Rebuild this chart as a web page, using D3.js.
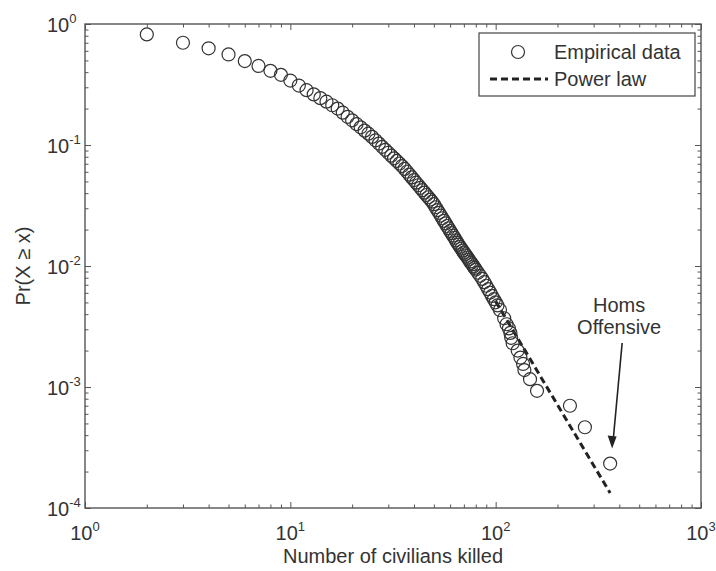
<!DOCTYPE html>
<html>
<head>
<meta charset="utf-8">
<script src="https://cdn.jsdelivr.net/npm/d3@7"></script>
<style>
  body { margin: 0; background: #fff; }
  svg { display: block; font-family: "Liberation Sans", Arial, sans-serif; }
</style>
</head>
<body>
<svg width="716" height="571"></svg>
<script>
// number of civilians killed per event (unique values) and Pr(X >= x)
const killed = [2, 3, 4, 5, 6, 7, 8, 9,
  10, 11, 12, 13, 14, 15, 16, 17, 18, 19, 20, 21, 22, 23, 24, 25, 26, 27, 28, 29,
  30, 31, 32, 33, 34, 35, 36, 37, 38, 39, 40, 41, 42, 43, 44, 45, 46, 47, 48, 49,
  50, 51, 52, 53, 54, 55, 56, 57, 58, 59, 60, 61, 62, 63, 64, 65, 66, 67, 68, 69,
  70, 71, 72, 73, 74, 75, 76, 77, 78, 79, 80, 82, 84, 86, 88, 90, 92, 94, 96, 98,
  100, 102, 105, 110, 113, 116, 118, 119, 121, 128, 132, 136, 138, 147, 159, 230, 272, 361]
const probability = [0.82, 0.70, 0.63, 0.56, 0.494, 0.45, 0.41, 0.38,
  0.341, 0.310, 0.284, 0.262, 0.244, 0.228, 0.213, 0.200, 0.185, 0.171, 0.160, 0.149, 0.140, 0.1315, 0.124, 0.1167, 0.1094, 0.1028, 0.0966, 0.0912,
  0.0863, 0.0817, 0.0776, 0.0738, 0.0703, 0.0670, 0.0635, 0.0601, 0.0569, 0.0540, 0.0513, 0.0488, 0.0465, 0.0443, 0.0423, 0.0404, 0.0386, 0.0370, 0.0354, 0.0340,
  0.0324, 0.0306, 0.0290, 0.0275, 0.0261, 0.0248, 0.0236, 0.0225, 0.0214, 0.0205, 0.0195, 0.0187, 0.0178, 0.0171, 0.0163, 0.0156, 0.0150, 0.0144, 0.0139, 0.0134,
  0.0129, 0.0125, 0.0121, 0.0117, 0.0113, 0.0109, 0.0106, 0.0103, 0.00993, 0.00964, 0.00935, 0.00880, 0.00830, 0.00783, 0.00735, 0.00687, 0.00643, 0.00603, 0.00566, 0.00532,
  0.00501, 0.00472, 0.00433, 0.0037, 0.0033, 0.00305, 0.0028, 0.00255, 0.0023, 0.0020, 0.00175, 0.00155, 0.00138, 0.00116, 0.00093, 0.0007, 0.000465, 0.000233]

// fitted power law (end points of the dashed line)
const powerLawX = [100, 361]
const powerLawY = [0.0051, 0.000133]

const xDecades = [1, 10, 100, 1000]
const yDecades = [1e-4, 1e-3, 1e-2, 1e-1, 1]

const plotLeft = 85, plotRight = 701, plotTop = 24, plotBottom = 508
const ink = "#333"

const svg = d3.select("svg")

const x = d3.scaleLog().domain([1, 1000]).range([plotLeft, plotRight])
const y = d3.scaleLog().domain([1e-4, 1]).range([plotBottom, plotTop])

// minor tick positions 2..9 within each decade
const minorX = [], minorY = []
xDecades.slice(0, -1).forEach(d => { for (let k = 2; k < 10; k++) minorX.push(d * k) })
yDecades.slice(0, -1).forEach(d => { for (let k = 2; k < 10; k++) minorY.push(d * k) })

// ticks on all four sides, pointing inwards (matlab style)
function ticks(axisFn, scale, values, size, transform) {
    const g = svg.append("g")
        .attr("transform", transform)
        .call(axisFn(scale).tickValues(values).tickSizeInner(-size).tickSizeOuter(0).tickFormat(""))
    g.select(".domain").remove()
    g.selectAll(".tick line").attr("stroke", "#555").attr("stroke-width", 1)
}
ticks(d3.axisBottom, x, xDecades, 6, `translate(0,${plotBottom})`)
ticks(d3.axisBottom, x, minorX, 3.5, `translate(0,${plotBottom})`)
ticks(d3.axisTop, x, xDecades, 6, `translate(0,${plotTop})`)
ticks(d3.axisTop, x, minorX, 3.5, `translate(0,${plotTop})`)
ticks(d3.axisLeft, y, yDecades, 6, `translate(${plotLeft},0)`)
ticks(d3.axisLeft, y, minorY, 3.5, `translate(${plotLeft},0)`)
ticks(d3.axisRight, y, yDecades, 6, `translate(${plotRight},0)`)
ticks(d3.axisRight, y, minorY, 3.5, `translate(${plotRight},0)`)

svg.append("rect")
    .attr("x", plotLeft).attr("y", plotTop)
    .attr("width", plotRight - plotLeft).attr("height", plotBottom - plotTop)
    .attr("fill", "none").attr("stroke", "#555").attr("stroke-width", 1.4)

// tick labels 10^n
function powerLabel(sel, exp) {
    sel.append("tspan").text("10")
    sel.append("tspan").attr("dy", -9).attr("font-size", 13).text(exp)
}
xDecades.forEach(v => {
    svg.append("text")
        .attr("x", x(v)).attr("y", 540)
        .attr("text-anchor", "middle")
        .attr("font-size", 20).attr("fill", ink)
        .call(powerLabel, Math.round(Math.log10(v)))
})
yDecades.forEach(v => {
    svg.append("text")
        .attr("x", 47).attr("y", y(v) + 8)
        .attr("font-size", 20).attr("fill", ink)
        .call(powerLabel, Math.round(Math.log10(v)))
})

// axis titles
svg.append("text")
    .attr("x", (plotLeft + plotRight) / 2).attr("y", 563)
    .attr("text-anchor", "middle")
    .attr("font-size", 20).attr("fill", ink)
    .text("Number of civilians killed")

svg.append("text")
    .attr("transform", `translate(30,${(plotTop + plotBottom) / 2}) rotate(-90)`)
    .attr("text-anchor", "middle")
    .attr("font-size", 20).attr("fill", ink)
    .text("Pr(X \u2265 x)")

// power law fit
svg.append("path")
    .datum(powerLawX.map((v, i) => [v, powerLawY[i]]))
    .attr("d", d3.line().x(d => x(d[0])).y(d => y(d[1])))
    .attr("fill", "none")
    .attr("stroke", "#222")
    .attr("stroke-width", 3)
    .attr("stroke-dasharray", "7,4")

// empirical data
svg.append("g")
    .selectAll("circle")
    .data(killed.map((v, i) => [v, probability[i]]))
    .enter().append("circle")
    .attr("cx", d => x(d[0]))
    .attr("cy", d => y(d[1]))
    .attr("r", 6.5)
    .attr("fill", "none")
    .attr("stroke", ink)
    .attr("stroke-width", 1.2)

// annotation for the largest event
const tipX = x(killed[killed.length - 1]) + 2
const tipY = y(probability[probability.length - 1]) - 15
svg.append("text")
    .attr("x", tipX + 7).attr("y", 312)
    .attr("text-anchor", "middle")
    .attr("font-size", 20).attr("fill", ink)
    .text("Homs")
svg.append("text")
    .attr("x", tipX + 7).attr("y", 334)
    .attr("text-anchor", "middle")
    .attr("font-size", 20).attr("fill", ink)
    .text("Offensive")
svg.append("line")
    .attr("x1", tipX + 10).attr("y1", 343)
    .attr("x2", tipX + 1).attr("y2", tipY - 8)
    .attr("stroke", "#222").attr("stroke-width", 1.6)
svg.append("path")
    .attr("d", `M${tipX},${tipY} L${tipX - 4.5},${tipY - 13} L${tipX + 4.5},${tipY - 12} Z`)
    .attr("fill", "#222")

// legend
const legend = svg.append("g")
legend.append("rect")
    .attr("x", 479).attr("y", 33)
    .attr("width", 216).attr("height", 63)
    .attr("fill", "#fff").attr("stroke", "#444").attr("stroke-width", 1.2)
legend.append("circle")
    .attr("cx", 518).attr("cy", 52).attr("r", 6.5)
    .attr("fill", "none").attr("stroke", ink).attr("stroke-width", 1.2)
legend.append("text")
    .attr("x", 554).attr("y", 59)
    .attr("font-size", 20).attr("fill", ink)
    .text("Empirical data")
legend.append("line")
    .attr("x1", 490).attr("x2", 548).attr("y1", 79).attr("y2", 79)
    .attr("stroke", "#222").attr("stroke-width", 3)
    .attr("stroke-dasharray", "7,4")
legend.append("text")
    .attr("x", 554).attr("y", 86)
    .attr("font-size", 20).attr("fill", ink)
    .text("Power law")
</script>
</body>
</html>
